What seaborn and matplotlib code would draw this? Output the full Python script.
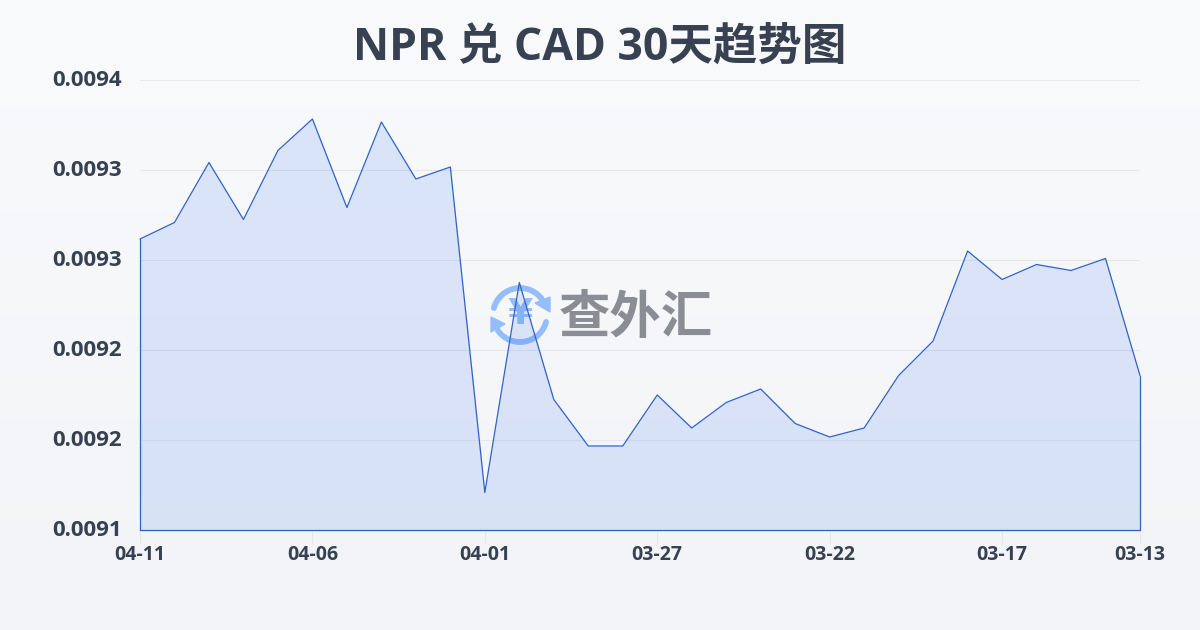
import numpy as np
import pandas as pd
import matplotlib
matplotlib.use('Agg')
import matplotlib.pyplot as plt
from matplotlib.patches import Arc, Polygon
from matplotlib.transforms import ScaledTranslation
import seaborn as sns

title = 'NPR 兑 CAD 30天趋势图'
days = ['04-11', '04-10', '04-09', '04-08', '04-07', '04-06', '04-05', '04-04', '04-03', '04-02',
        '04-01', '03-31', '03-30', '03-29', '03-28', '03-27', '03-26', '03-25', '03-24', '03-23',
        '03-22', '03-21', '03-20', '03-19', '03-18', '03-17', '03-16', '03-15', '03-14', '03-13']
rates = [0.009294, 0.009305, 0.009345, 0.009307, 0.009353, 0.009374, 0.009315, 0.009372, 0.009334, 0.009342,
         0.009125, 0.009265, 0.009187, 0.009156, 0.009156, 0.009190, 0.009168, 0.009185, 0.009194, 0.009171,
         0.009162, 0.009168, 0.009203, 0.009226, 0.009286, 0.009267, 0.009277, 0.009273, 0.009281, 0.009203]
y_ticks = [0.0091, 0.00916, 0.00922, 0.00928, 0.00934, 0.0094]
y_labels = ['0.0091', '0.0092', '0.0092', '0.0093', '0.0093', '0.0094']

sns.set_theme(style='white')
plt.rcParams['font.family'] = ['Open Sans', 'Noto Sans CJK SC', 'DejaVu Sans']

df = pd.DataFrame({'day': days, 'rate': rates})
df['pos'] = range(len(df))

text_col = '#374151'
line_col = '#2f62c9'
icon_col = '#94bdfb'

fig = plt.figure(figsize=(12, 6.3), dpi=100)

# background gradient + watermark, in pixel coords
bg = fig.add_axes([0, 0, 1, 1], zorder=0)
bg.imshow(np.linspace(0, 1, 256).reshape(-1, 1), aspect='auto', extent=[0, 1200, 630, 0],
          cmap=matplotlib.colors.LinearSegmentedColormap.from_list('bg', ['#f8fafc', '#f2f4f7']))
bg.set_xlim(0, 1200)
bg.set_ylim(630, 0)
bg.axis('off')

bg.add_patch(Arc((520, 315), 54, 54, theta1=195, theta2=325, color=icon_col, lw=4.2, capstyle='round'))
bg.add_patch(Arc((520, 315), 54, 54, theta1=15, theta2=145, color=icon_col, lw=4.2, capstyle='round'))
bg.add_patch(Polygon([[550, 297], [550, 312], [535, 303]], closed=True, color=icon_col))
bg.add_patch(Polygon([[491, 317], [491, 332], [505, 324]], closed=True, color=icon_col))
bg.text(520, 314, '¥', color=icon_col, fontsize=26, fontweight='bold', ha='center', va='center',
        family=['DejaVu Sans'])
bg.text(636, 317, '查外汇', color='#8a8d94', fontsize=37, fontweight='bold', ha='center', va='center',
        family=['Noto Sans CJK SC', 'DejaVu Sans'])

ax = fig.add_axes([140 / 1200, 100 / 630, 1000 / 1200, 450 / 630], zorder=1)
ax.patch.set_alpha(0)

ax.fill_between(df['pos'], rates, y_ticks[0], color='#2563eb', alpha=0.13, lw=0, zorder=2)
sns.lineplot(data=df, x='pos', y='rate', ax=ax, color=line_col, lw=0.9, zorder=3, clip_on=False)
ax.plot([0, 0], [y_ticks[0], rates[0]], color=line_col, lw=0.9, zorder=3, clip_on=False)
ax.plot([len(df) - 1, len(df) - 1], [y_ticks[0], rates[-1]], color=line_col, lw=0.9, zorder=3, clip_on=False)
ax.plot([0, len(df) - 1], [y_ticks[0], y_ticks[0]], color=line_col, lw=0.9, zorder=3, clip_on=False)

ax.set_xlim(0, len(df) - 1)
ax.set_ylim(y_ticks[0], y_ticks[-1])
ax.set_xlabel('')
ax.set_ylabel('')
ax.set_yticks(y_ticks)
ax.set_yticklabels(y_labels, fontsize=16, fontweight='bold', color=text_col)
ax.set_xticks(df['pos'][::5].tolist() + [len(df) - 1])
ax.set_xticklabels(days[::5] + [days[-1]], fontsize=14, fontweight='bold', color=text_col)
ax.tick_params(axis='y', length=0, pad=13)
ax.tick_params(axis='x', bottom=True, length=10, width=0.8, color='#e5e7eb', pad=1)
ax.grid(axis='y', color='#e5e7eb', lw=0.8, zorder=1)
ax.set_axisbelow(True)
sns.despine(ax=ax, left=True, bottom=True)

# y labels sit about 2px above their gridlines
up = ScaledTranslation(0, 2 / 100, fig.dpi_scale_trans)
for lab in ax.get_yticklabels():
    lab.set_transform(lab.get_transform() + up)

fig.text(0.5, 1 - 48 / 630, title, ha='center', va='center', fontsize=32, fontweight='bold', color=text_col)

fig.savefig('out.png', dpi=100)
